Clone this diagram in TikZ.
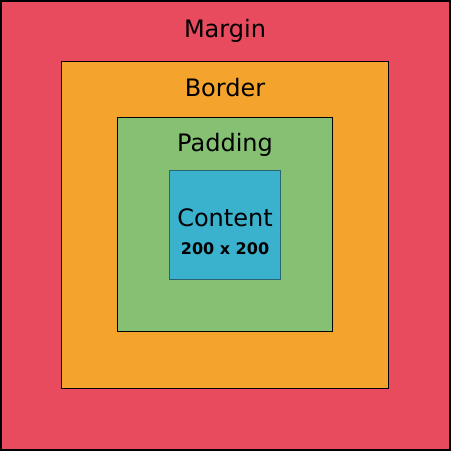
\documentclass[tikz,border=0pt]{standalone}
\usepackage{fontspec}
\setmainfont{DejaVu Sans}
\definecolor{marginred}{RGB}{233,75,94}
\definecolor{borderorange}{RGB}{244,164,44}
\definecolor{paddinggreen}{RGB}{133,192,115}
\definecolor{contentblue}{RGB}{58,178,206}
\definecolor{contentline}{RGB}{40,100,115}
\tikzset{
  layer/.style={draw=black, line width=1.4pt, inner sep=0pt, outer sep=0pt},
  title/.style={anchor=base, font=\fontsize{18}{22}\selectfont},
  sizetext/.style={anchor=base, font=\fontsize{12}{14}\selectfont\bfseries}
}
\begin{document}
\begin{tikzpicture}[x=0.75pt, y=-0.75pt]
  \useasboundingbox (0,0) rectangle (451,451);
  % nested boxes, outside in
  \draw[layer, fill=marginred] (1,1) rectangle (450,450);
  \draw[layer, fill=borderorange] (61.5,61.5) rectangle (388.5,388.5);
  \draw[layer, line width=1.2pt, fill=paddinggreen] (117.5,117.5) rectangle (332.5,331.5);
  \draw[draw=contentline, line width=0.8pt, fill=contentblue] (169.5,170.5) rectangle (280.5,279.5);
  % labels
  \node[title] (margin) at (225,37) {Margin};
  \node[title] (border) at (225,96) {Border};
  \node[title] (padding) at (225,151) {Padding};
  \node[title] (content) at (225,226) {Content};
  \node[sizetext] (size) at (225,254) {200 x 200};
\end{tikzpicture}
\end{document}
